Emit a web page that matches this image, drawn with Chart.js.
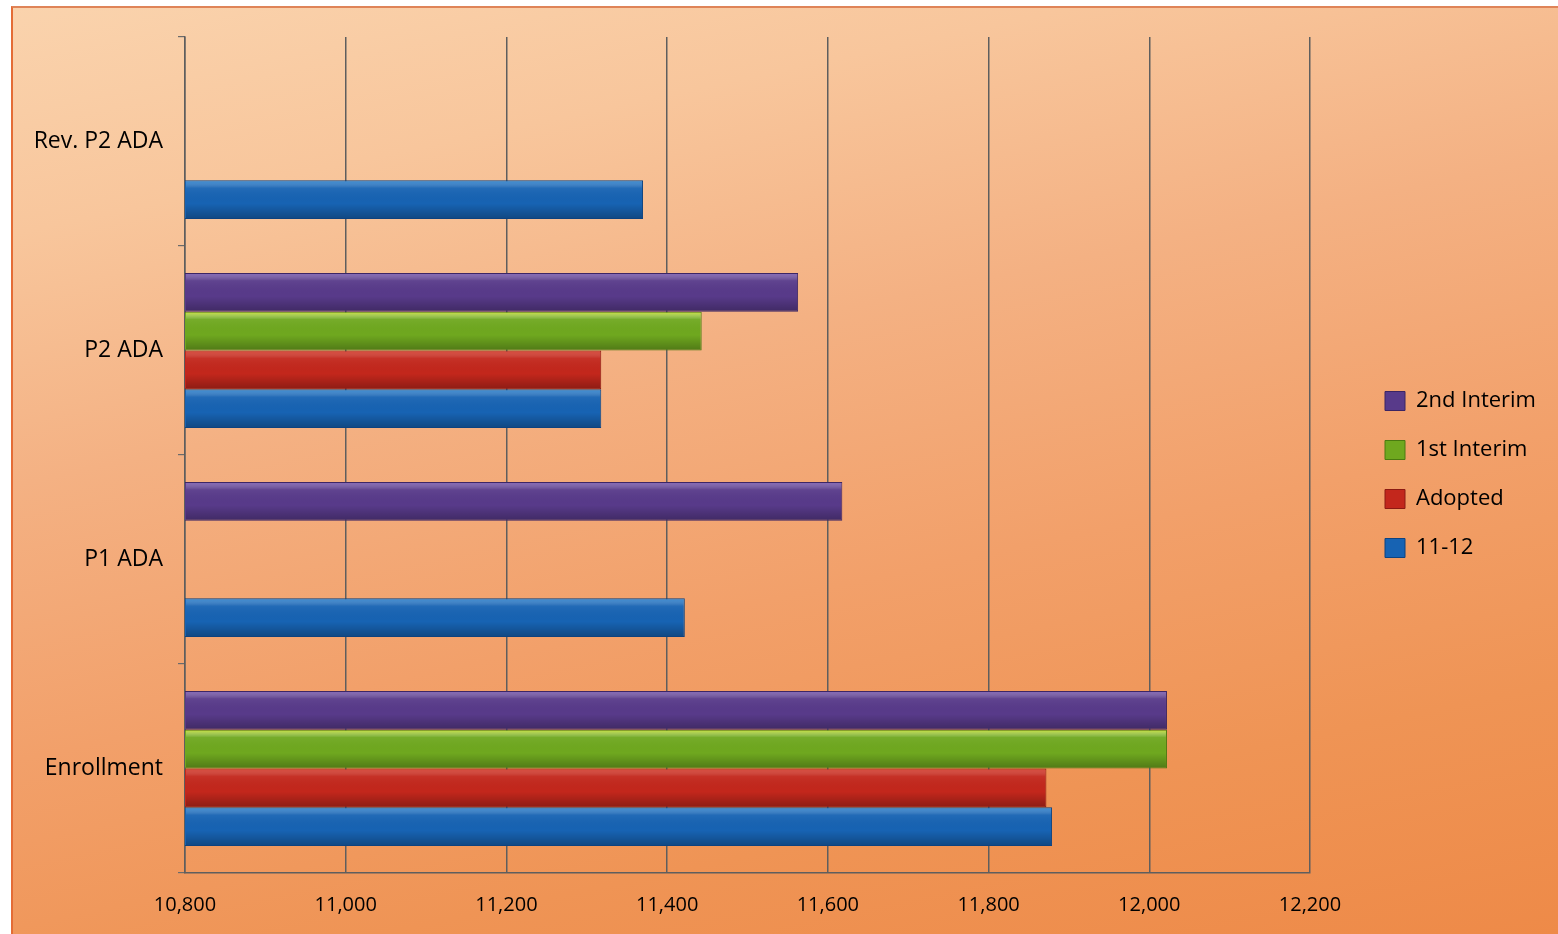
<!DOCTYPE html>
<html>
<head>
<meta charset="utf-8">
<title>Enrollment and ADA</title>
<script src="https://cdn.jsdelivr.net/npm/chart.js@4.4.1/dist/chart.umd.min.js"></script>
<style>
  html, body { margin: 0; padding: 0; background: #fff; }
  #frame {
    position: absolute;
    left: 11px; top: 6px;
    width: 1547px; height: 928px;
    box-sizing: border-box;
    border-left: 2px solid #e46c36;
    border-top: 2px solid #df8458;
    background: linear-gradient(168deg, #fad3ad 0%, #f8c69c 18%, #f4b183 38%, #f2a06a 60%, #ef9455 80%, #ee8a48 100%);
  }
</style>
</head>
<body>
<div id="frame"><canvas id="chart"></canvas></div>
<script>
// categories, top to bottom as drawn
const categories = ['Rev. P2 ADA', 'P2 ADA', 'P1 ADA', 'Enrollment'];

// series (legend order, top to bottom)
const seriesNames = ['2nd Interim', '1st Interim', 'Adopted', '11-12'];
const secondInterim = [null, 11563, 11618, 12022];
const firstInterim  = [null, 11443, null, 12022];
const adopted       = [null, 11318, null, 11872];
const year1112      = [11370, 11318, 11422, 11879];

const xTickValues = [10800, 11000, 11200, 11400, 11600, 11800, 12000, 12200];

const seriesColors = ['#583a8a', '#6fa81f', '#c3271c', '#1763b3'];
const seriesEdges  = ['#3b2463', '#4a7a10', '#8c1a12', '#0d4380'];
const seriesTops   = ['rgba(170,140,220,0.55)', 'rgba(230,245,60,0.75)', 'rgba(240,110,90,0.45)', 'rgba(80,170,235,0.55)'];

const seriesValues = [secondInterim, firstInterim, adopted, year1112];

const fontFamily = '"Open Sans", "Noto Sans", sans-serif';

// glossy look on each bar, positioned from the bar elements themselves
const barShine = {
    id: 'barShine',
    afterDatasetsDraw(chart) {
        const ctx = chart.ctx;
        const area = chart.chartArea;
        ctx.save();
        ctx.beginPath();
        ctx.rect(area.left, area.top, area.right - area.left, area.bottom - area.top);
        ctx.clip();
        chart.data.datasets.forEach((ds, i) => {
            const meta = chart.getDatasetMeta(i);
            meta.data.forEach((bar, j) => {
                if (ds.data[j] == null) return;
                const { x, y, base, height } = bar.getProps(['x', 'y', 'base', 'height'], true);
                const top = y - height / 2;
                const left = Math.max(base, area.left);
                const g = ctx.createLinearGradient(0, top, 0, top + height);
                g.addColorStop(0, seriesTops[i]);
                g.addColorStop(0.2, 'rgba(255,255,255,0.05)');
                g.addColorStop(0.6, 'rgba(0,0,0,0)');
                g.addColorStop(1, 'rgba(0,0,0,0.28)');
                ctx.fillStyle = g;
                ctx.fillRect(left + 1, top + 1, x - left - 2, height - 2);
            });
        });
        ctx.restore();
    }
};

// legend sits apart from the plot, like the original
const legendGap = {
    id: 'legendGap',
    beforeInit(chart) {
        const legend = chart.legend;
        const fit = legend.fit;
        legend.fit = function () {
            fit.call(this);
            this.width = 248;
        };
        const draw = legend.draw;
        legend.draw = function () {
            this.left += 48;
            this.top -= 22;
            draw.call(this);
            this.left -= 48;
            this.top += 22;
        };
    }
};

new Chart(document.getElementById('chart'), {
    type: 'bar',
    data: {
        labels: categories,
        datasets: seriesNames.map((name, i) => ({
            label: name,
            data: seriesValues[i],
            backgroundColor: seriesColors[i],
            borderColor: seriesEdges[i],
            borderWidth: 1,
            categoryPercentage: 0.742,
            barPercentage: 1
        }))
    },
    options: {
        indexAxis: 'y',
        responsive: true,
        maintainAspectRatio: false,
        animation: false,
        layout: { padding: { top: 29, bottom: 0, left: 0, right: 0 } },
        scales: {
            x: {
                min: 10800,
                max: 12200,
                afterBuildTicks: axis => { axis.ticks = xTickValues.map(v => ({ value: v })); },
                afterFit: scale => { scale.height = 61; },
                ticks: {
                    padding: 20,
                    color: '#000',
                    font: { family: fontFamily, size: 20 },
                    callback: v => v.toLocaleString('en-US')
                },
                grid: { color: '#5e5e5e', lineWidth: 1.5, drawTicks: false },
                border: { color: '#5e5e5e', width: 1.5 }
            },
            y: {
                afterFit: scale => { scale.width = 172; },
                ticks: {
                    padding: 15,
                    color: '#000',
                    font: { family: fontFamily, size: 23 }
                },
                grid: { drawOnChartArea: false, tickLength: 7, color: '#6a6a6a', lineWidth: 1.2 },
                border: { color: '#5e5e5e', width: 1.5 }
            }
        },
        plugins: {
            legend: {
                position: 'right',
                labels: {
                    boxWidth: 20,
                    boxHeight: 19,
                    padding: 27,
                    color: '#000',
                    font: { family: fontFamily, size: 22 }
                }
            },
            tooltip: { enabled: false }
        }
    },
    plugins: [barShine, legendGap]
});
</script>
</body>
</html>
